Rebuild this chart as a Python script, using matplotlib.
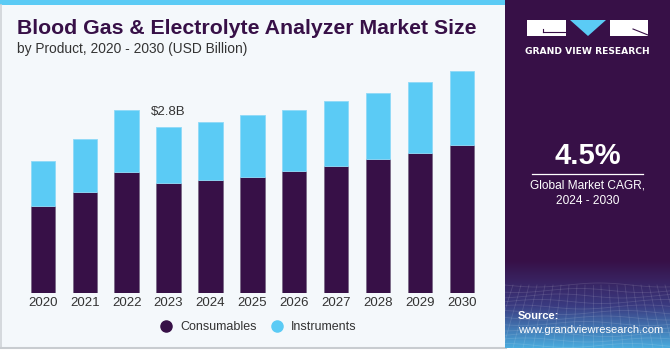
import matplotlib
matplotlib.use("Agg")
import matplotlib.pyplot as plt
import numpy as np
from matplotlib.patches import Rectangle, Polygon
from matplotlib.lines import Line2D

years = ["2020", "2021", "2022", "2023", "2024", "2025", "2026", "2027", "2028", "2029", "2030"]
consumables = [1.48, 1.71, 2.05, 1.86, 1.91, 1.97, 2.07, 2.15, 2.27, 2.37, 2.50]
instruments = [0.75, 0.89, 1.05, 0.94, 0.98, 1.03, 1.03, 1.10, 1.11, 1.19, 1.25]
annot_year = "2023"
annot_text = "$2.8B"

DARK = "#371047"
BLUE = "#5BCBF5"
BG = "#F4F8FB"

W, H = 670, 350
fig = plt.figure(figsize=(W / 100, H / 100), dpi=100)
fig.patch.set_facecolor("white")

def fx(px):
    return px / W

def fy(py):
    return 1 - py / H

# background panel (left)
bgax = fig.add_axes([0, 0, 1, 1], zorder=0)
bgax.set_xlim(0, W)
bgax.set_ylim(H, 0)
bgax.axis("off")
bgax.add_patch(Rectangle((0, 0), 506, 348, facecolor=BG, edgecolor="none"))
bgax.add_patch(Rectangle((0, 0), 506, 5, facecolor=BLUE, edgecolor="none"))
bgax.plot([0.5, 0.5], [5, 347], color="#cfd3d8", lw=1.2)
bgax.plot([0, 506], [348, 348], color="#c8ccd0", lw=1.5)

# right panel with gradient
pax = fig.add_axes([fx(505), fy(348), fx(165), 348 / H], zorder=1)
pax.axis("off")
n = 348
grad = np.zeros((n, 1, 3))
c1 = np.array([0x37, 0x10, 0x47]) / 255
c2 = np.array([0x3A, 0x3A, 0x80]) / 255
c3 = np.array([0x4A, 0xAE, 0xE0]) / 255
for i in range(n):
    if i < 260:
        grad[i, 0] = c1
    elif i < 305:
        t = (i - 260) / 45
        grad[i, 0] = c1 * (1 - t) + c2 * t
    else:
        t = (i - 305) / 43
        grad[i, 0] = c2 * (1 - t) + c3 * t
pax.imshow(grad, aspect="auto", extent=[0, 165, 348, 0])
pax.set_xlim(0, 165)
pax.set_ylim(348, 0)
# faint mesh texture at bottom
for k in range(12):
    yv = 285 + k * 5.5
    xs = np.linspace(0, 165, 50)
    pax.plot(xs, yv + 2 * np.sin(xs / 20 + k), color="white", alpha=0.12, lw=0.6)
for k in range(22):
    x0 = k * 8
    pax.plot([x0, x0 + (k - 11) * 2], [285, 348], color="white", alpha=0.12, lw=0.6)

# logo and panel text
lax = fig.add_axes([0, 0, 1, 1], zorder=2)
lax.set_xlim(0, W)
lax.set_ylim(H, 0)
lax.axis("off")
lax.add_patch(Rectangle((527, 20), 39, 16, facecolor="white", edgecolor="none"))
lax.plot([543, 566], [32, 32], color=DARK, lw=0.8)
lax.plot([543, 543], [29, 32], color=DARK, lw=0.8)
lax.add_patch(Polygon([(570, 20), (606, 20), (588, 36)], closed=True, facecolor=BLUE, edgecolor="none"))
lax.add_patch(Rectangle((610, 20), 38, 16, facecolor="white", edgecolor="none"))
lax.plot([633, 648], [29, 35], color=DARK, lw=0.8)
lax.text(587.5, 51, "GRAND VIEW RESEARCH", color="white", fontsize=6.6, fontweight="bold",
         ha="center", va="center", family="DejaVu Sans")
lax.text(587.5, 156, "4.5%", color="white", fontsize=21, fontweight="bold", ha="center", va="center",
         family="Liberation Sans")
lax.plot([532, 643], [173.5, 173.5], color="white", lw=0.9)
lax.text(587.5, 185, "Global Market CAGR,", color="white", fontsize=8.6, ha="center", va="center",
         family="Liberation Sans")
lax.text(587.5, 201, "2024 - 2030", color="white", fontsize=8.6, ha="center", va="center",
         family="Liberation Sans")
lax.text(518, 316, "Source:", color="white", fontsize=8, fontweight="bold", ha="left", va="center",
         family="Liberation Sans")
lax.text(518, 330, "www.grandviewresearch.com", color="white", fontsize=8, ha="left", va="center",
         family="Liberation Sans")

# titles
lax.text(17, 29, "Blood Gas & Electrolyte Analyzer Market Size", color=DARK, fontsize=15.3,
         fontweight="bold", ha="left", va="center", family="Liberation Sans")
lax.text(17, 49, "by Product, 2020 - 2030 (USD Billion)", color="#333333", fontsize=9.9,
         ha="left", va="center", family="Liberation Sans")

# main chart
scale = 2.8 / 166.0
base_px = 293.3
top_px = 60
x0_px = 42.8
unit = 41.92
left_px, right_px = 18, 488
ax = fig.add_axes([fx(left_px), fy(base_px), fx(right_px - left_px), (base_px - top_px) / H], zorder=3)
ax.set_facecolor("none")
x = np.arange(len(years))
ax.bar(x, consumables, width=0.58, color=DARK, edgecolor="#7a6a88", linewidth=0.6)
ax.bar(x, instruments, width=0.58, bottom=consumables, color=BLUE, edgecolor="#8fd9f7", linewidth=0.6)
ax.set_xlim((left_px - x0_px) / unit, (right_px - x0_px) / unit)
ax.set_ylim(0, (base_px - top_px) * scale)
ax.set_xticks(x)
ax.set_xticklabels(years, fontsize=9.5, color="#333333", family="Liberation Sans")
ax.tick_params(axis="x", length=0, pad=3)
ax.set_yticks([])
for s in ax.spines.values():
    s.set_visible(False)
i = years.index(annot_year)
ax.text(x[i], consumables[i] + instruments[i] + 0.16, annot_text, ha="center", va="bottom",
        fontsize=9.5, color="#333333", family="Liberation Sans")

handles = [Line2D([], [], marker="o", ls="none", color=DARK, markersize=8, label="Consumables"),
           Line2D([], [], marker="o", ls="none", color=BLUE, markersize=8, label="Instruments")]
leg = fig.legend(handles=handles, loc="center", bbox_to_anchor=(fx(255), fy(327)), ncol=2,
                 frameon=False, handletextpad=0.1, columnspacing=0.6,
                 prop={"family": "Liberation Sans", "size": 9.0})
for t in leg.get_texts():
    t.set_color("#333333")

fig.savefig("out.png", dpi=100, facecolor=fig.get_facecolor())
